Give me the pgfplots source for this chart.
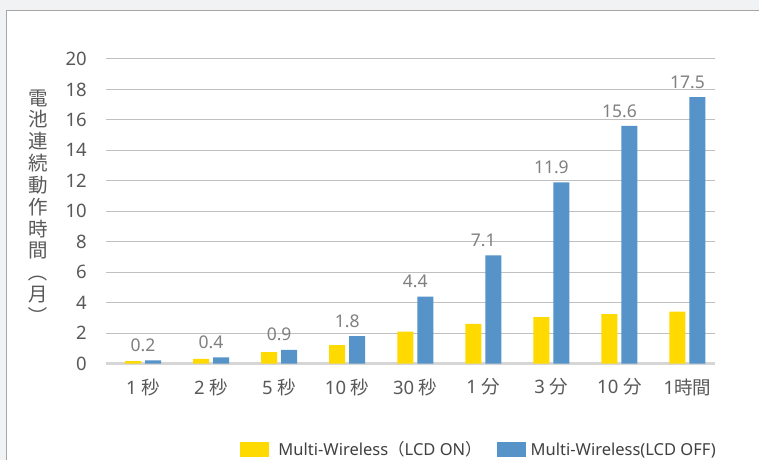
\documentclass[border=0pt]{standalone}
\usepackage{fontspec}
\setmainfont{Noto Sans}
\newfontfamily\jp{Noto Sans CJK JP}
\usepackage{graphicx}
\usepackage{pgfplots}
\usepackage{pgfplotstable}
\pgfplotsset{compat=1.18}
\definecolor{cyel}{HTML}{FFDA00}
\definecolor{cblu}{HTML}{5593C8}
\definecolor{gridc}{HTML}{C0C0C0}
\definecolor{basec}{HTML}{D6D6D6}
\definecolor{tickc}{HTML}{595959}
\definecolor{lblc}{HTML}{808080}
\definecolor{legc}{HTML}{404040}
\definecolor{bgc}{HTML}{F1F2F4}
\definecolor{framec}{HTML}{A6A6A6}

\pgfplotstableread{
x on off lab
0 0.15 0.2 0.2
1 0.3 0.4 0.4
2 0.75 0.9 0.9
3 1.2 1.8 1.8
4 2.1 4.4 4.4
5 2.6 7.1 7.1
6 3.05 11.9 11.9
7 3.25 15.6 15.6
8 3.4 17.5 17.5
}\datatable

\begin{document}
\begin{tikzpicture}[x=1pt,y=1pt]
\useasboundingbox (0,0) rectangle (759,460);
\fill[bgc] (0,0) rectangle (759,460);
\fill[white] (6.5,0) rectangle (759,449.5);
\draw[framec, line width=1.2pt] (6.5,0) -- (6.5,449.5) -- (759,449.5);
\begin{axis}[
  at={(106pt,96.5pt)}, anchor=south west,
  scale only axis, width=608.5pt, height=304.5pt,
  xmin=-0.544, xmax=8.397, ymin=0, ymax=20,
  axis line style={draw=none},
  major tick length=0pt,
  ytick={2,4,...,20},
  extra y ticks={0},
  extra y tick style={grid style={basec, line width=2.5pt}},
  ymajorgrids,
  grid style={gridc, line width=1pt},
  xtick={0,...,8},
  xticklabels={{1 {\jp 秒}},{2 {\jp 秒}},{5 {\jp 秒}},{10 {\jp 秒}},{30 {\jp 秒}},{1 {\jp 分}},{3 {\jp 分}},{10 {\jp 分}},{1{\jp 時間}}},
  /pgf/number format/assume math mode=true,
  yticklabel style={font=\fontsize{18.5}{20}\selectfont, text=tickc, inner sep=0pt, xshift=-19pt},
  xticklabel style={font=\fontsize{18.5}{20}\selectfont, text=tickc, inner sep=0pt, yshift=-15pt},
  ylabel={電\\池\\連\\続\\動\\作\\時\\間\\\rotatebox[origin=c]{-90}{（}\\月\\\rotatebox[origin=c]{-90}{）}},
  ylabel style={rotate=-90, at={(axis description cs:-0.1117,0.512)}, anchor=center, align=center, font=\jp\fontsize{19.5}{21.8}\selectfont, text=tickc},
  legend style={at={(axis description cs:0.2202,-0.2824)}, anchor=west, draw=none, fill=none, inner sep=0pt, outer sep=0pt, font=\fontsize{16.5}{19}\selectfont, text=legc, nodes={inner sep=0pt}, column sep=0pt},
  legend columns=2,
  legend cell align=left,
]
\addplot[ybar, bar width=16pt, bar shift=-10pt, fill=cyel, draw=none,
  legend image code/.code={\fill[cyel] (0pt,-7.5pt) rectangle (29pt,7.5pt);}]
  table[x=x,y=on]{\datatable};
\addlegendentry{\rule{9.5pt}{0pt}Multi-Wireless{\jp （}LCD ON{\jp ）}\rule{15pt}{0pt}}
\addplot[ybar, bar width=16pt, bar shift=10pt, fill=cblu, draw=none,
  legend image code/.code={\fill[cblu] (0pt,-7.5pt) rectangle (29pt,7.5pt);},
  point meta=explicit symbolic,
  nodes near coords,
  every node near coord/.append style={font=\fontsize{17.5}{19}\selectfont, text=lblc, inner sep=0pt, anchor=south, yshift=8.5pt}]
  table[x=x,y=off,meta=lab]{\datatable};
\addlegendentry{\rule{5pt}{0pt}Multi-Wireless(LCD OFF)}
\end{axis}
\end{tikzpicture}
\end{document}
